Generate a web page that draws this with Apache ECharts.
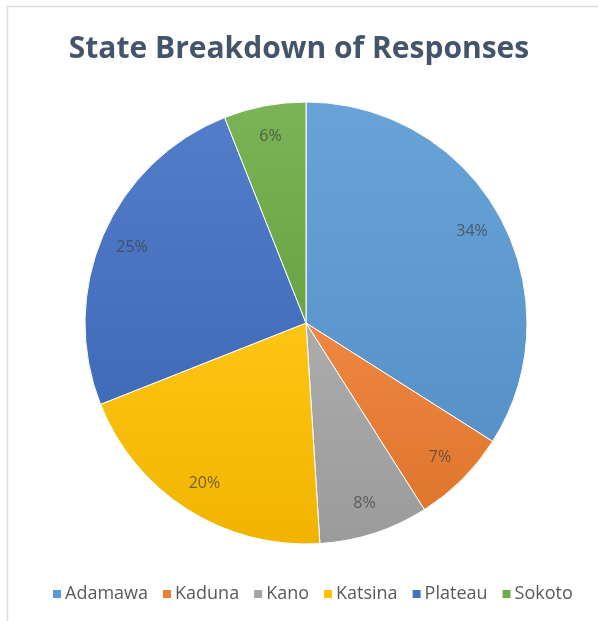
<!DOCTYPE html>
<html>
<head>
<meta charset="utf-8">
<style>
  html, body { margin: 0; padding: 0; background: #ffffff; }
  #chart { width: 598px; height: 621px; }
</style>
<script src="https://cdn.jsdelivr.net/npm/echarts@6/dist/echarts.min.js"></script>
</head>
<body>
<div id="chart"></div>
<script>
// Survey responses by state (percent of total)
const states = ['Adamawa', 'Kaduna', 'Kano', 'Katsina', 'Plateau', 'Sokoto'];
const shares = [34, 7, 8, 20, 25, 6];
const sliceColors = ['#5B9BD5', '#ED7D31', '#A5A5A5', '#FFC000', '#4472C4', '#70AD47'];

function shade(hex, amt) {
  const n = parseInt(hex.slice(1), 16);
  let r = (n >> 16) & 255, g = (n >> 8) & 255, b = n & 255;
  const f = v => Math.max(0, Math.min(255, Math.round(amt >= 0 ? v + (255 - v) * amt : v * (1 + amt))));
  return 'rgb(' + f(r) + ',' + f(g) + ',' + f(b) + ')';
}

const chart = echarts.init(document.getElementById('chart'), null, { renderer: 'canvas' });

const centre = [306, 323];
const radius = 221;

const sliceData = states.map((s, i) => ({
  name: s,
  value: shares[i],
  itemStyle: {
    color: new echarts.graphic.LinearGradient(0, 0, 0, 1, [
      { offset: 0, color: shade(sliceColors[i], 0.08) },
      { offset: 1, color: shade(sliceColors[i], -0.06) }
    ])
  }
}));

const labelData = states.map((s, i) => ({ name: s, value: shares[i] }));

chart.setOption({
  animation: false,
  backgroundColor: '#ffffff',
  color: sliceColors,
  title: {
    text: 'State Breakdown of Responses',
    left: 'center',
    top: 29,
    textStyle: {
      fontFamily: 'Open Sans',
      fontSize: 30,
      fontWeight: 'bold',
      color: '#44546A'
    }
  },
  legend: {
    bottom: 13,
    left: 46,
    itemWidth: 10,
    itemHeight: 10,
    itemGap: 13,
    icon: 'rect',
    data: states.map((s, i) => ({ name: s, itemStyle: { color: sliceColors[i] } })),
    textStyle: { fontFamily: 'Open Sans', fontSize: 18, color: '#595959', padding: [0, 0, 0, -2] }
  },
  graphic: [
    { type: 'line', shape: { x1: 7, y1: 6.5, x2: 598, y2: 6.5 }, style: { stroke: '#d9dce3', lineWidth: 1.5 } },
    { type: 'line', shape: { x1: 7.5, y1: 6, x2: 7.5, y2: 621 }, style: { stroke: '#d9dce3', lineWidth: 1.5 } }
  ],
  series: [
    {
      type: 'pie',
      center: centre,
      radius: [0, radius],
      startAngle: 90,
      clockwise: true,
      label: { show: false },
      labelLine: { show: false },
      itemStyle: { borderColor: '#ffffff', borderWidth: 1 },
      emphasis: { disabled: true },
      data: sliceData
    },
    {
      // transparent ring used only to place the percentage labels near the rim
      type: 'pie',
      center: centre,
      radius: [152, radius],
      startAngle: 90,
      clockwise: true,
      silent: true,
      itemStyle: { color: 'rgba(0,0,0,0)', borderWidth: 0 },
      label: {
        show: true,
        position: 'inside',
        formatter: p => p.value + '%',
        fontFamily: 'Open Sans',
        fontSize: 16,
        color: 'rgba(64,64,64,0.72)'
      },
      labelLine: { show: false },
      emphasis: { disabled: true },
      data: labelData
    }
  ]
});
</script>
</body>
</html>
